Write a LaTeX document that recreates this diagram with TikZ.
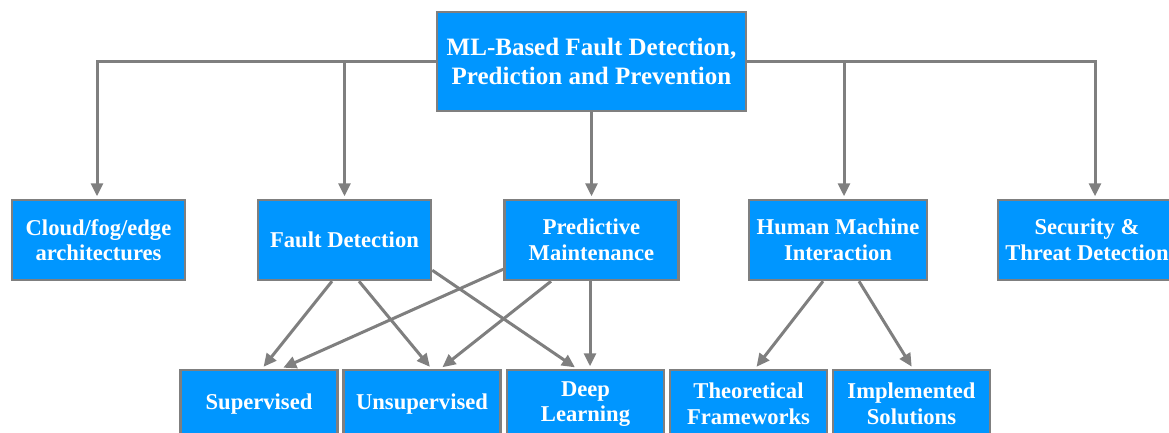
\documentclass[tikz,border=0pt]{standalone}
\usepackage{fontspec}
\setmainfont{Liberation Serif}
\usepackage{tikz}
\usetikzlibrary{arrows.meta,positioning}
\usepackage{xcolor}
\definecolor{boxblue}{RGB}{0,150,255}
\definecolor{linegray}{RGB}{127,127,127}

\begin{document}
\begin{tikzpicture}[x=1pt, y=1pt,
    blkbox/.style={draw=linegray, line width=2.5pt, fill=boxblue, text=white, align=center, inner sep=0pt},
    topbox/.style={blkbox, minimum width=309pt, minimum height=99pt, font=\bfseries\fontsize{25}{28.5}\selectfont},
    catbox/.style={blkbox, minimum width=174pt, minimum height=80pt, font=\bfseries\fontsize{22.6}{25.5}\selectfont},
    subbox/.style={blkbox, minimum width=157pt, minimum height=68pt, font=\bfseries\fontsize{22.6}{25.5}\selectfont},
    link/.style={draw=linegray, line width=3pt, -{Triangle[length=13pt,width=12pt]}, shorten >=2.5pt}]
    \clip (0,0) rectangle (1169,432);
    \useasboundingbox (0,0) rectangle (1169,432);

    \node [topbox] (main) at (591.5,370.5) {ML-Based Fault Detection,\\Prediction and Prevention};

    \node [catbox, node distance=178.5pt, below of=main] (predictive) {Predictive\\Maintenance};
    \node [catbox, minimum width=173pt, node distance=247pt, left of=predictive] (fault) {Fault Detection};
    \node [catbox, minimum width=173pt, node distance=246pt, left of=fault] (cloud) {Cloud/fog/edge\\architectures};
    \node [catbox, minimum width=178pt, node distance=246.5pt, right of=predictive] (hmi) {Human Machine\\Interaction};
    \node [catbox, minimum width=178pt, node distance=249pt, right of=hmi] (security) {Security \&\\Threat Detection};

    \node [subbox, node distance=164pt, below of=predictive, xshift=-6pt] (deep) {Deep\\Learning};
    \node [subbox, node distance=163.5pt, left of=deep] (unsupervised) {Unsupervised};
    \node [subbox, node distance=163pt, left of=unsupervised] (supervised) {Supervised};
    \node [subbox, node distance=163pt, right of=deep] (theoretical) {Theoretical\\Frameworks};
    \node [subbox, node distance=163pt, right of=theoretical] (implemented) {Implemented\\Solutions};

    % top level
    \draw[link] (main.west) -| ([xshift=-1.5pt]cloud.north);
    \draw[link] (main.west) -| (fault.north);
    \draw[link] (main) -- (predictive);
    \draw[link] (main.east) -| ([xshift=6pt]hmi.north);
    \draw[link] (main.east) -| ([xshift=8pt]security.north);

    % fault detection
    \draw[link] ([xshift=-12.5pt]fault.south) -- ([xshift=3pt]supervised.north);
    \draw[link] ([xshift=14.5pt]fault.south) -- ([xshift=9.5pt]unsupervised.north);
    \draw[link] ([yshift=11pt]fault.south east) -- ([xshift=-8.5pt]deep.north);

    % predictive maintenance
    \draw[link] ([yshift=12pt]predictive.south west) -- ([xshift=22pt]supervised.north);
    \draw[link] ([xshift=-40.5pt]predictive.south) -- ([xshift=18.5pt]unsupervised.north);
    \draw[link] ([xshift=-1.5pt]predictive.south) -- ([xshift=4.5pt]deep.north);

    % human machine interaction
    \draw[link] ([xshift=-15pt]hmi.south) -- ([xshift=6.5pt]theoretical.north);
    \draw[link] ([xshift=21pt]hmi.south) -- ([xshift=1.5pt]implemented.north);
\end{tikzpicture}
\end{document}
